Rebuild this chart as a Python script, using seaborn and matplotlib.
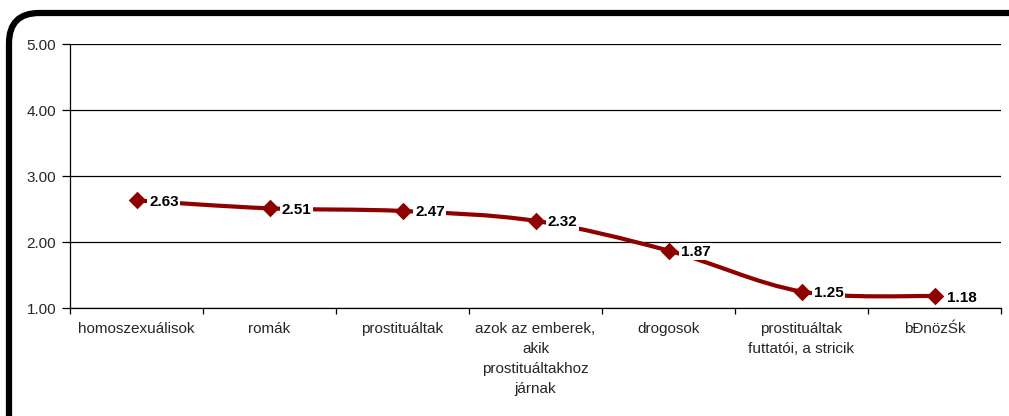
import numpy as np
import pandas as pd
import matplotlib
matplotlib.use("Agg")
import matplotlib.pyplot as plt
import seaborn as sns
from matplotlib.path import Path
from matplotlib.patches import PathPatch, FancyBboxPatch

categories = ["homoszexuálisok", "romák", "prostituáltak",
              "azok az emberek,\nakik\nprostituáltakhoz\njárnak",
              "drogosok", "prostituáltak\nfuttatói, a stricik", "bĐnözŚk"]
values = [2.63, 2.51, 2.47, 2.32, 1.87, 1.25, 1.18]
value_labels = ["2.63", "2.51", "2.47", "2.32", "1.87", "1.25", "1.18"]
y_ticks = [1.0, 2.0, 3.0, 4.0, 5.0]
y_tick_labels = ["1.00", "2.00", "3.00", "4.00", "5.00"]

sns.set_theme(style="white")
plt.rcParams['font.family'] = ['Liberation Sans', 'DejaVu Sans']

LINE = "#8F0000"
fig = plt.figure(figsize=(10.09, 4.16), dpi=100)
ax = fig.add_axes([70/1009, 1 - 308/416, (1001-70)/1009, (308-44)/416])

df = pd.DataFrame({"x": np.arange(len(values)), "y": values})

# smoothed (Excel-style) connecting line built as a Bezier path in data coords
xs = df["x"].to_numpy(dtype=float)
ys = df["y"].to_numpy(dtype=float)
verts = [(xs[0], ys[0])]
codes = [Path.MOVETO]
t = 1/6
for i in range(len(xs) - 1):
    p0 = (xs[i-1], ys[i-1]) if i > 0 else (xs[i], ys[i])
    p1 = (xs[i], ys[i])
    p2 = (xs[i+1], ys[i+1])
    p3 = (xs[i+2], ys[i+2]) if i + 2 < len(xs) else p2
    c1 = (p1[0] + (p2[0]-p0[0])*t, p1[1] + (p2[1]-p0[1])*t)
    c2 = (p2[0] - (p3[0]-p1[0])*t, p2[1] - (p3[1]-p1[1])*t)
    verts += [c1, c2, p2]
    codes += [Path.CURVE4]*3
ax.add_patch(PathPatch(Path(verts, codes), facecolor="none", edgecolor=LINE,
                       lw=3.0, zorder=3, capstyle="round"))

sns.scatterplot(data=df, x="x", y="y", ax=ax, marker="D", s=80, color=LINE,
                edgecolor=LINE, linewidth=0, zorder=5, legend=False)

for x, y, lab in zip(xs, ys, value_labels):
    ax.annotate(lab, (x, y), xytext=(9, -1), textcoords="offset points",
                ha="left", va="center", fontsize=11, fontweight="bold",
                color="black", zorder=4,
                bbox=dict(boxstyle="square,pad=0.1", fc="white", ec="none"))

ax.set_xlim(-0.5, 6.5)
ax.set_ylim(1.0, 5.0)
ax.set_yticks(y_ticks)
ax.set_yticklabels(y_tick_labels, fontsize=11)
for yv in y_ticks:
    ax.axhline(yv, color="black", lw=0.9, zorder=1)

ax.set_xticks(np.arange(-0.5, 7.0, 1.0))
ax.set_xticklabels([""] * 8)
ax.set_xticks(xs, minor=True)
ax.set_xticklabels(categories, minor=True, fontsize=11, va="top", ha="center",
                   linespacing=1.55)
ax.tick_params(axis="x", which="major", direction="out", length=4, width=0.9,
               color="black", bottom=True)
ax.tick_params(axis="x", which="minor", length=0, pad=10)
ax.tick_params(axis="y", direction="out", length=6, width=0.9, color="black",
               left=True, pad=4)
ax.set_xlabel("")
ax.set_ylabel("")
for s in ["top", "right"]:
    ax.spines[s].set_visible(False)
for s in ["left", "bottom"]:
    ax.spines[s].set_color("black")
    ax.spines[s].set_linewidth(0.9)

border = FancyBboxPatch((9/1009, -0.2), 1.2, 1.2 - 13/416,
                        boxstyle="round,pad=0,rounding_size=0.03",
                        transform=fig.transFigure, fc="none", ec="black",
                        lw=4.5, mutation_aspect=1009/416, clip_on=False)
fig.patches.append(border)

fig.savefig("out.png", dpi=100, facecolor="white")
